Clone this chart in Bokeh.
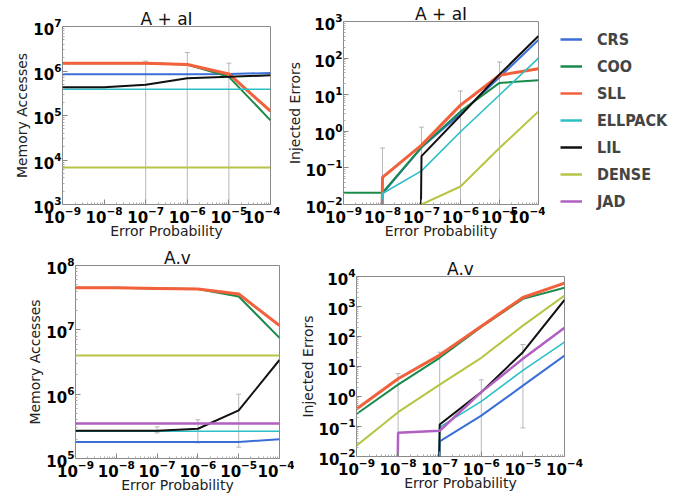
import math
from bokeh.plotting import figure
from bokeh.layouts import row, column
from bokeh.models import FixedTicker, Legend, LegendItem
from bokeh.embed import file_html
from bokeh.resources import INLINE

# ---------------- data ----------------
x_prob = [1e-9, 1e-8, 1e-7, 1e-6, 1e-5, 1e-4]
formats = ["CRS", "COO", "SLL", "ELLPACK", "LIL", "DENSE", "JAD"]
colors = {"CRS": "#3a6fd8", "COO": "#1a8a4a", "SLL": "#f2603c", "ELLPACK": "#2bbfc8",
          "LIL": "#111111", "DENSE": "#b8c444", "JAD": "#b060c0"}
widths = {"CRS": 2, "COO": 2, "SLL": 3, "ELLPACK": 1.6, "LIL": 2, "DENSE": 2, "JAD": 2.5}

# A + aI : memory accesses
aI_mem = {
    "CRS":     [8.5e5, 8.5e5, 8.5e5, 8.5e5, 8.6e5, 9.0e5],
    "COO":     [1.5e6, 1.5e6, 1.5e6, 1.4e6, 7.4e5, 7.8e4],
    "SLL":     [1.5e6, 1.5e6, 1.5e6, 1.4e6, 8.6e5, 1.25e5],
    "ELLPACK": [3.9e5, 3.9e5, 3.9e5, 3.9e5, 3.9e5, 3.9e5],
    "LIL":     [4.3e5, 4.3e5, 4.9e5, 6.9e5, 7.4e5, 8.0e5],
    "DENSE":   [6.8e3, 6.8e3, 6.8e3, 6.8e3, 6.8e3, 6.8e3],
    "JAD":     None,
}
aI_mem_err_x = [1e-7, 1e-6, 1e-5]
aI_mem_err_lo = [0, 0, 0]
aI_mem_err_hi = [1.66e6, 2.6e6, 1.5e6]

# A + aI : injected errors
aI_err = {
    "CRS":     [0, 0.02, 0.36, 3.0, 30, 315],
    "COO":     [0.021, 0.021, 0.37, 3.5, 21, 25],
    "SLL":     [0, 0.055, 0.42, 5.2, 34, 51],
    "ELLPACK": [0, 0.02, 0.083, 0.97, 9.8, 100],
    "LIL":     [0, 0, 0.21, 2.7, 36, 400],
    "DENSE":   [0, 0, 0.01, 0.031, 0.35, 3.5],
    "JAD":     None,
}
aI_err_err_x = [1e-8, 1e-7, 1e-6, 1e-5]
aI_err_err_lo = [0, 0, 0, 0]
aI_err_err_hi = [0.35, 1.3, 12.6, 78]

# A.v : memory accesses
Av_mem = {
    "CRS":     [1.8e5, 1.8e5, 1.8e5, 1.8e5, 1.8e5, 2.0e5],
    "COO":     [4.5e7, 4.5e7, 4.4e7, 4.3e7, 3.3e7, 7.5e6],
    "SLL":     [4.5e7, 4.5e7, 4.4e7, 4.3e7, 3.6e7, 1.17e7],
    "ELLPACK": [2.65e5, 2.65e5, 2.65e5, 2.65e5, 2.65e5, 2.65e5],
    "LIL":     [2.7e5, 2.7e5, 2.7e5, 2.9e5, 5.6e5, 3.4e6],
    "DENSE":   [4.0e6, 4.0e6, 4.0e6, 4.0e6, 4.0e6, 4.0e6],
    "JAD":     [3.5e5, 3.5e5, 3.5e5, 3.5e5, 3.5e5, 3.5e5],
}
Av_mem_err_x = [1e-7, 1e-6, 1e-5]
Av_mem_err_lo = [2.5e5, 1.75e5, 1.5e5]
Av_mem_err_hi = [3.1e5, 4.0e5, 1.0e6]

# A.v : injected errors
Av_err = {
    "CRS":     [0, 0, 0.032, 0.23, 2.3, 23],
    "COO":     [0.26, 2.5, 19.5, 210, 1800, 4200],
    "SLL":     [0.38, 3.9, 24, 220, 2000, 6000],
    "ELLPACK": [0, 0, 0.095, 0.69, 7.4, 65],
    "LIL":     [0, 0, 0.117, 1.4, 30, 1650],
    "DENSE":   [0.023, 0.3, 2.5, 19.5, 230, 2300],
    "JAD":     [0, 0.062, 0.072, 1.4, 18, 195],
}
Av_err_err_x = [1e-8, 1e-7, 1e-6, 1e-5]
Av_err_err_lo = [0, 0, 0, 0.09]
Av_err_err_hi = [5.8, 30, 3.6, 54]

# zero values are clipped far below the axis, as a log scale does
FLOOR = 1e-100


def clip(v):
    if v is None:
        return float("nan")
    return v if v > 0 else FLOOR


def panel(title, ylabel, yexp, data, ex, elo, ehi, w, h, bl, br, bt, bb):
    p = figure(width=w, height=h,
               min_border_left=bl, min_border_right=br, min_border_top=bt, min_border_bottom=bb,
               x_axis_type="log", y_axis_type="log",
               x_range=(1e-9, 1e-4), y_range=(10.0 ** yexp[0], 10.0 ** yexp[1]),
               output_backend="svg", toolbar_location=None, title=title)
    p.title.text_font = "DejaVu Sans"
    p.title.text_font_size = "17px"
    p.title.text_font_style = "normal"
    p.title.text_color = "#111111"
    p.title.align = "center"
    p.title.standoff = -5
    p.grid.visible = False
    p.outline_line_color = "#8a8a8a"
    p.background_fill_color = "white"
    p.border_fill_color = "white"

    xt = list(range(-9, -3))
    p.xaxis.ticker = FixedTicker(ticks=[10.0 ** k for k in xt],
                                 minor_ticks=[m * 10.0 ** k for k in xt[:-1] for m in range(2, 10)])
    yt = list(range(yexp[0], yexp[1] + 1))
    p.yaxis.ticker = FixedTicker(ticks=[10.0 ** k for k in yt],
                                 minor_ticks=[m * 10.0 ** k for k in yt[:-1] for m in range(2, 10)])
    p.xaxis.axis_label = "Error Probability"
    p.yaxis.axis_label = ylabel
    for ax in (p.xaxis[0], p.yaxis[0]):
        ax.major_label_text_font = "DejaVu Sans"
        ax.major_label_text_font_size = "15px"
        ax.major_label_text_font_style = "bold"
        ax.major_label_text_color = "black"
        ax.axis_label_text_font = "DejaVu Sans"
        ax.axis_label_text_font_size = "14px"
        ax.axis_label_text_font_style = "normal"
        ax.axis_label_text_color = "#222222"
        ax.axis_line_color = None
        ax.major_tick_in = 5
        ax.major_tick_out = 0
        ax.minor_tick_in = 2
        ax.minor_tick_out = 0
        ax.major_tick_line_color = "#888888"
        ax.minor_tick_line_color = "#aaaaaa"
        ax.major_label_standoff = 1
    p.xaxis.axis_label_standoff = -3
    p.yaxis.axis_label_standoff = 0

    # error bars
    p.segment(x0=ex, y0=[clip(v) for v in elo], x1=ex, y1=ehi,
              line_color="#9a9a9a", line_alpha=0.7, line_width=1)
    p.scatter(ex, ehi, marker="dash", size=5, line_color="#9a9a9a", line_alpha=0.7)
    lo_x = [x for x, v in zip(ex, elo) if v > 0]
    lo_y = [v for v in elo if v > 0]
    p.scatter(lo_x, lo_y, marker="dash", size=5, line_color="#9a9a9a", line_alpha=0.7)

    for f in formats:
        vals = data[f]
        ys = [clip(v) for v in vals] if vals is not None else [float("nan")] * len(x_prob)
        p.line(x_prob, ys, line_color=colors[f], line_width=widths[f])
    return p


p1 = panel("A + aI", "Memory Accesses", (3, 7), aI_mem,
           aI_mem_err_x, aI_mem_err_lo, aI_mem_err_hi,
           w=280, h=241, bl=62, br=10, bt=26, bb=35)
p2 = panel("A + aI", "Injected Errors", (-2, 3), aI_err,
           aI_err_err_x, aI_err_err_lo, aI_err_err_hi,
           w=265, h=241, bl=63, br=7, bt=21, bb=36)
p3 = panel("A.v", "Memory Accesses", (5, 8), Av_mem,
           Av_mem_err_x, Av_mem_err_lo, Av_mem_err_hi,
           w=294, h=254, bl=75, br=15, bt=24, bb=37)
p4 = panel("A.v", "Injected Errors", (-2, 4), Av_err,
           Av_err_err_x, Av_err_err_lo, Av_err_err_hi,
           w=290, h=254, bl=62, br=20, bt=35, bb=39)

# legend panel: one legend entry per storage format
LEG_H = 241
LEG_BOTTOM = 6
pl = figure(width=134, height=LEG_H, output_backend="svg", toolbar_location=None,
            x_axis_location=None, y_axis_location=None,
            min_border_left=0, min_border_right=0, min_border_top=6, min_border_bottom=LEG_BOTTOM,
            outline_line_color=None)
pl.grid.visible = False
leg_rends = [pl.line([float("nan")], [float("nan")], line_color=colors[f], line_width=2.5)
             for f in formats]
legend = Legend(items=[LegendItem(label=f, renderers=[r]) for f, r in zip(formats, leg_rends)],
                location=(15, (LEG_H - LEG_BOTTOM) - 29 - 182), orientation="vertical",
                glyph_width=22, glyph_height=20, label_height=20, spacing=7,
                label_standoff=15, padding=0, margin=0,
                label_text_font="DejaVu Sans Condensed, DejaVu Sans",
                label_text_font_size="16px", label_text_font_style="bold",
                border_line_color=None, background_fill_alpha=0)
pl.add_layout(legend, "center")

layout = column(row(column(p1), column(p2), column(pl)), row(column(p3), column(p4)))

open("out.html", "w").write(file_html(layout, INLINE))
